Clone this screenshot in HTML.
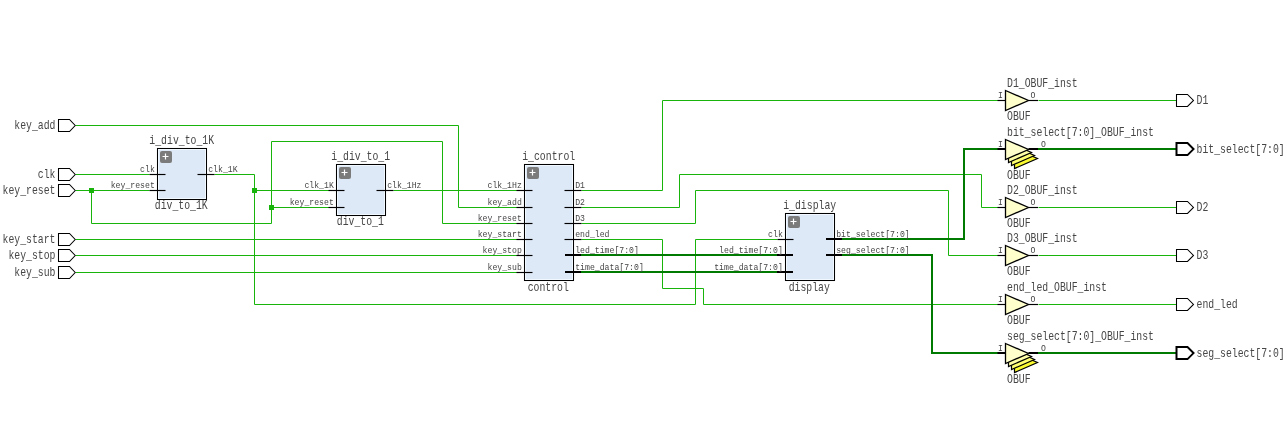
<!DOCTYPE html><html><head><meta charset="utf-8"><style>html,body{margin:0;padding:0;background:#fff;overflow:hidden}svg{display:block;will-change:transform}text{font-family:"Liberation Mono",monospace}</style></head><body>
<svg width="1287" height="430" viewBox="0 0 1287 430">
<rect width="1287" height="430" fill="#fff"/>
<path d="M75.5,125.5 L458.5,125.5 L458.5,207.5 L517.5,207.5" stroke="#18b40c" stroke-width="1" fill="none"/>
<path d="M75.5,174.5 L149.5,174.5" stroke="#18b40c" stroke-width="1" fill="none"/>
<path d="M75.5,190.5 L149.5,190.5" stroke="#18b40c" stroke-width="1" fill="none"/>
<path d="M91.5,190.5 L91.5,223.5 L271.5,223.5 L271.5,141.5 L442.5,141.5 L442.5,223.5 L517.5,223.5" stroke="#18b40c" stroke-width="1" fill="none"/>
<path d="M271.5,207.5 L329.5,207.5" stroke="#18b40c" stroke-width="1" fill="none"/>
<path d="M214.5,174.5 L254.5,174.5 L254.5,304.5 L695.5,304.5 L695.5,239.5 L777.5,239.5" stroke="#18b40c" stroke-width="1" fill="none"/>
<path d="M254.5,190.5 L329.5,190.5" stroke="#18b40c" stroke-width="1" fill="none"/>
<path d="M393.5,190.5 L517.5,190.5" stroke="#18b40c" stroke-width="1" fill="none"/>
<path d="M75.5,239.5 L517.5,239.5" stroke="#18b40c" stroke-width="1" fill="none"/>
<path d="M75.5,255.5 L517.5,255.5" stroke="#18b40c" stroke-width="1" fill="none"/>
<path d="M75.5,272.5 L517.5,272.5" stroke="#18b40c" stroke-width="1" fill="none"/>
<path d="M581.5,190.5 L662.5,190.5 L662.5,100.5 L998.5,100.5" stroke="#18b40c" stroke-width="1" fill="none"/>
<path d="M581.5,207.5 L679.5,207.5 L679.5,174.5 L981.5,174.5 L981.5,207.5 L998.5,207.5" stroke="#18b40c" stroke-width="1" fill="none"/>
<path d="M581.5,223.5 L695.5,223.5 L695.5,190.5 L948.5,190.5 L948.5,255.5 L998.5,255.5" stroke="#18b40c" stroke-width="1" fill="none"/>
<path d="M581.5,239.5 L662.5,239.5 L662.5,288.5 L703.5,288.5 L703.5,304.5 L998.5,304.5" stroke="#18b40c" stroke-width="1" fill="none"/>
<path d="M1038.5,100.5 L1176.5,100.5" stroke="#18b40c" stroke-width="1" fill="none"/>
<path d="M1038.5,207.5 L1176.5,207.5" stroke="#18b40c" stroke-width="1" fill="none"/>
<path d="M1038.5,255.5 L1176.5,255.5" stroke="#18b40c" stroke-width="1" fill="none"/>
<path d="M1038.5,304.5 L1176.5,304.5" stroke="#18b40c" stroke-width="1" fill="none"/>
<path d="M581.0,255.0 L777.0,255.0" stroke="#007a00" stroke-width="2" fill="none"/>
<path d="M581.0,272.0 L777.0,272.0" stroke="#007a00" stroke-width="2" fill="none"/>
<path d="M842.0,239.0 L964.0,239.0 L964.0,149.0 L998.0,149.0" stroke="#007a00" stroke-width="2" fill="none"/>
<path d="M842.0,255.0 L932.0,255.0 L932.0,353.0 L998.0,353.0" stroke="#007a00" stroke-width="2" fill="none"/>
<path d="M1038.0,149.0 L1176.0,149.0" stroke="#007a00" stroke-width="2" fill="none"/>
<path d="M1038.0,353.0 L1176.0,353.0" stroke="#007a00" stroke-width="2" fill="none"/>
<rect x="89" y="188" width="5" height="5" fill="#18b40c"/>
<rect x="252" y="188" width="5" height="5" fill="#18b40c"/>
<rect x="269" y="205" width="5" height="5" fill="#18b40c"/>
<path d="M58.5,119.5 L69.5,119.5 L75.2,125.5 L69.5,131.5 L58.5,131.5 Z" fill="#fff" stroke="#000" stroke-width="1.05"/>
<text x="55.5" y="128.5" font-size="11.9" text-anchor="end" textLength="41.16" lengthAdjust="spacingAndGlyphs" fill="#464646">key_add</text>
<path d="M58.5,168.5 L69.5,168.5 L75.2,174.5 L69.5,180.5 L58.5,180.5 Z" fill="#fff" stroke="#000" stroke-width="1.05"/>
<text x="55.5" y="177.5" font-size="11.9" text-anchor="end" textLength="17.64" lengthAdjust="spacingAndGlyphs" fill="#464646">clk</text>
<path d="M58.5,184.5 L69.5,184.5 L75.2,190.5 L69.5,196.5 L58.5,196.5 Z" fill="#fff" stroke="#000" stroke-width="1.05"/>
<text x="55.5" y="193.5" font-size="11.9" text-anchor="end" textLength="52.92" lengthAdjust="spacingAndGlyphs" fill="#464646">key_reset</text>
<path d="M58.5,233.5 L69.5,233.5 L75.2,239.5 L69.5,245.5 L58.5,245.5 Z" fill="#fff" stroke="#000" stroke-width="1.05"/>
<text x="55.5" y="242.5" font-size="11.9" text-anchor="end" textLength="52.92" lengthAdjust="spacingAndGlyphs" fill="#464646">key_start</text>
<path d="M58.5,249.5 L69.5,249.5 L75.2,255.5 L69.5,261.5 L58.5,261.5 Z" fill="#fff" stroke="#000" stroke-width="1.05"/>
<text x="55.5" y="258.5" font-size="11.9" text-anchor="end" textLength="47.04" lengthAdjust="spacingAndGlyphs" fill="#464646">key_stop</text>
<path d="M58.5,266.5 L69.5,266.5 L75.2,272.5 L69.5,278.5 L58.5,278.5 Z" fill="#fff" stroke="#000" stroke-width="1.05"/>
<text x="55.5" y="275.5" font-size="11.9" text-anchor="end" textLength="41.16" lengthAdjust="spacingAndGlyphs" fill="#464646">key_sub</text>
<rect x="157.5" y="148.5" width="49" height="51" fill="#dee9f7" stroke="#000" stroke-width="1.05"/>
<rect x="158.5" y="149.5" width="47" height="49" fill="none" stroke="#f2f8ff" stroke-width="1"/>
<rect x="160" y="151" width="12" height="12" rx="2" fill="#7b7b7b"/>
<path d="M162.5,156.5 L168.5,156.5 M165.5,153.5 L165.5,159.5" stroke="#fff" stroke-width="1.2"/>
<text x="181.7" y="143.9" font-size="11.9" text-anchor="middle" textLength="64.68" lengthAdjust="spacingAndGlyphs" fill="#464646">i_div_to_1K</text>
<text x="181.29999999999998" y="209.1" font-size="11.9" text-anchor="middle" textLength="52.92" lengthAdjust="spacingAndGlyphs" fill="#464646">div_to_1K</text>
<path d="M149.5,174.5 L165.5,174.5" stroke="#000" stroke-width="1.15"/>
<text x="154.8" y="171.8" font-size="9.3" text-anchor="end" textLength="14.70" lengthAdjust="spacingAndGlyphs" fill="#464646">clk</text>
<path d="M149.5,190.5 L165.5,190.5" stroke="#000" stroke-width="1.15"/>
<text x="154.8" y="187.8" font-size="9.3" text-anchor="end" textLength="44.10" lengthAdjust="spacingAndGlyphs" fill="#464646">key_reset</text>
<path d="M197.5,174.5 L214.5,174.5" stroke="#000" stroke-width="1.15"/>
<text x="208.2" y="171.8" font-size="9.3" text-anchor="start" textLength="29.40" lengthAdjust="spacingAndGlyphs" fill="#464646">clk_1K</text>
<rect x="336.5" y="164.5" width="49" height="51" fill="#dee9f7" stroke="#000" stroke-width="1.05"/>
<rect x="337.5" y="165.5" width="47" height="49" fill="none" stroke="#f2f8ff" stroke-width="1"/>
<rect x="339" y="167" width="12" height="12" rx="2" fill="#7b7b7b"/>
<path d="M341.5,172.5 L347.5,172.5 M344.5,169.5 L344.5,175.5" stroke="#fff" stroke-width="1.2"/>
<text x="360.7" y="159.9" font-size="11.9" text-anchor="middle" textLength="58.80" lengthAdjust="spacingAndGlyphs" fill="#464646">i_div_to_1</text>
<text x="360.3" y="224.5" font-size="11.9" text-anchor="middle" textLength="47.04" lengthAdjust="spacingAndGlyphs" fill="#464646">div_to_1</text>
<path d="M328.5,190.5 L344.5,190.5" stroke="#000" stroke-width="1.15"/>
<text x="333.8" y="187.8" font-size="9.3" text-anchor="end" textLength="29.40" lengthAdjust="spacingAndGlyphs" fill="#464646">clk_1K</text>
<path d="M328.5,207.5 L344.5,207.5" stroke="#000" stroke-width="1.15"/>
<text x="333.8" y="204.8" font-size="9.3" text-anchor="end" textLength="44.10" lengthAdjust="spacingAndGlyphs" fill="#464646">key_reset</text>
<path d="M376.5,190.5 L393.5,190.5" stroke="#000" stroke-width="1.15"/>
<text x="387.2" y="187.8" font-size="9.3" text-anchor="start" textLength="34.30" lengthAdjust="spacingAndGlyphs" fill="#464646">clk_1Hz</text>
<rect x="524.5" y="164.5" width="49" height="116" fill="#dee9f7" stroke="#000" stroke-width="1.05"/>
<rect x="525.5" y="165.5" width="47" height="114" fill="none" stroke="#f2f8ff" stroke-width="1"/>
<rect x="527" y="167" width="12" height="12" rx="2" fill="#7b7b7b"/>
<path d="M529.5,172.5 L535.5,172.5 M532.5,169.5 L532.5,175.5" stroke="#fff" stroke-width="1.2"/>
<text x="548.7" y="159.9" font-size="11.9" text-anchor="middle" textLength="52.92" lengthAdjust="spacingAndGlyphs" fill="#464646">i_control</text>
<text x="548.3000000000001" y="290.7" font-size="11.9" text-anchor="middle" textLength="41.16" lengthAdjust="spacingAndGlyphs" fill="#464646">control</text>
<path d="M516.5,190.5 L532.5,190.5" stroke="#000" stroke-width="1.15"/>
<text x="521.8" y="187.8" font-size="9.3" text-anchor="end" textLength="34.30" lengthAdjust="spacingAndGlyphs" fill="#464646">clk_1Hz</text>
<path d="M516.5,207.5 L532.5,207.5" stroke="#000" stroke-width="1.15"/>
<text x="521.8" y="204.8" font-size="9.3" text-anchor="end" textLength="34.30" lengthAdjust="spacingAndGlyphs" fill="#464646">key_add</text>
<path d="M516.5,223.5 L532.5,223.5" stroke="#000" stroke-width="1.15"/>
<text x="521.8" y="220.8" font-size="9.3" text-anchor="end" textLength="44.10" lengthAdjust="spacingAndGlyphs" fill="#464646">key_reset</text>
<path d="M516.5,239.5 L532.5,239.5" stroke="#000" stroke-width="1.15"/>
<text x="521.8" y="236.8" font-size="9.3" text-anchor="end" textLength="44.10" lengthAdjust="spacingAndGlyphs" fill="#464646">key_start</text>
<path d="M516.5,255.5 L532.5,255.5" stroke="#000" stroke-width="1.15"/>
<text x="521.8" y="252.8" font-size="9.3" text-anchor="end" textLength="39.20" lengthAdjust="spacingAndGlyphs" fill="#464646">key_stop</text>
<path d="M516.5,272.5 L532.5,272.5" stroke="#000" stroke-width="1.15"/>
<text x="521.8" y="269.8" font-size="9.3" text-anchor="end" textLength="34.30" lengthAdjust="spacingAndGlyphs" fill="#464646">key_sub</text>
<path d="M564.5,190.5 L581.5,190.5" stroke="#000" stroke-width="1.15"/>
<text x="575.2" y="187.8" font-size="9.3" text-anchor="start" textLength="9.80" lengthAdjust="spacingAndGlyphs" fill="#464646">D1</text>
<path d="M564.5,207.5 L581.5,207.5" stroke="#000" stroke-width="1.15"/>
<text x="575.2" y="204.8" font-size="9.3" text-anchor="start" textLength="9.80" lengthAdjust="spacingAndGlyphs" fill="#464646">D2</text>
<path d="M564.5,223.5 L581.5,223.5" stroke="#000" stroke-width="1.15"/>
<text x="575.2" y="220.8" font-size="9.3" text-anchor="start" textLength="9.80" lengthAdjust="spacingAndGlyphs" fill="#464646">D3</text>
<path d="M564.5,239.5 L581.5,239.5" stroke="#000" stroke-width="1.15"/>
<text x="575.2" y="236.8" font-size="9.3" text-anchor="start" textLength="34.30" lengthAdjust="spacingAndGlyphs" fill="#464646">end_led</text>
<path d="M565,255 L581,255" stroke="#000" stroke-width="2"/>
<text x="575.2" y="252.8" font-size="9.3" text-anchor="start" textLength="63.70" lengthAdjust="spacingAndGlyphs" fill="#464646">led_time[7:0]</text>
<path d="M565,272 L581,272" stroke="#000" stroke-width="2"/>
<text x="575.2" y="269.8" font-size="9.3" text-anchor="start" textLength="68.60" lengthAdjust="spacingAndGlyphs" fill="#464646">time_data[7:0]</text>
<rect x="785.5" y="213.5" width="49" height="67" fill="#dee9f7" stroke="#000" stroke-width="1.05"/>
<rect x="786.5" y="214.5" width="47" height="65" fill="none" stroke="#f2f8ff" stroke-width="1"/>
<rect x="788" y="216" width="12" height="12" rx="2" fill="#7b7b7b"/>
<path d="M790.5,221.5 L796.5,221.5 M793.5,218.5 L793.5,224.5" stroke="#fff" stroke-width="1.2"/>
<text x="809.7" y="208.9" font-size="11.9" text-anchor="middle" textLength="52.92" lengthAdjust="spacingAndGlyphs" fill="#464646">i_display</text>
<text x="809.3000000000001" y="290.7" font-size="11.9" text-anchor="middle" textLength="41.16" lengthAdjust="spacingAndGlyphs" fill="#464646">display</text>
<path d="M777.5,239.5 L793.5,239.5" stroke="#000" stroke-width="1.15"/>
<text x="782.8" y="236.8" font-size="9.3" text-anchor="end" textLength="14.70" lengthAdjust="spacingAndGlyphs" fill="#464646">clk</text>
<path d="M777,255 L793,255" stroke="#000" stroke-width="2"/>
<text x="782.8" y="252.8" font-size="9.3" text-anchor="end" textLength="63.70" lengthAdjust="spacingAndGlyphs" fill="#464646">led_time[7:0]</text>
<path d="M777,272 L793,272" stroke="#000" stroke-width="2"/>
<text x="782.8" y="269.8" font-size="9.3" text-anchor="end" textLength="68.60" lengthAdjust="spacingAndGlyphs" fill="#464646">time_data[7:0]</text>
<path d="M826,239 L842,239" stroke="#000" stroke-width="2"/>
<text x="836.2" y="236.8" font-size="9.3" text-anchor="start" textLength="73.50" lengthAdjust="spacingAndGlyphs" fill="#464646">bit_select[7:0]</text>
<path d="M826,255 L842,255" stroke="#000" stroke-width="2"/>
<text x="836.2" y="252.8" font-size="9.3" text-anchor="start" textLength="73.50" lengthAdjust="spacingAndGlyphs" fill="#464646">seg_select[7:0]</text>
<path d="M997.5,100.5 L1005.5,100.5" stroke="#000" stroke-width="1.15"/>
<path d="M1028.5,100.5 L1038,100.5" stroke="#000" stroke-width="1.15"/>
<path d="M1005.5,90.5 L1028.5,100.5 L1005.5,110.5 Z" fill="#ffffcc" stroke="#000" stroke-width="1.3"/>
<text x="1007" y="86.6" font-size="11.9" text-anchor="start" textLength="70.56" lengthAdjust="spacingAndGlyphs" fill="#464646">D1_OBUF_inst</text>
<text x="1007" y="119.6" font-size="11.9" text-anchor="start" textLength="23.52" lengthAdjust="spacingAndGlyphs" fill="#464646">OBUF</text>
<text x="1002.8" y="98" font-size="9.3" text-anchor="end" textLength="4.90" lengthAdjust="spacingAndGlyphs" fill="#464646">I</text>
<text x="1030.5" y="98" font-size="9.3" text-anchor="start" textLength="4.90" lengthAdjust="spacingAndGlyphs" fill="#464646">O</text>
<path d="M997.5,149 L1005.5,149" stroke="#000" stroke-width="2"/>
<path d="M1028.5,149 L1038,149" stroke="#000" stroke-width="2"/>
<path d="M1014.5,148.5 L1037.5,158.5 L1014.5,168.5 Z" fill="#fafa30" stroke="#000" stroke-width="1.2"/>
<path d="M1011.5,145.5 L1034.5,155.5 L1011.5,165.5 Z" fill="#ffff70" stroke="#000" stroke-width="1.2"/>
<path d="M1008.5,142.5 L1031.5,152.5 L1008.5,162.5 Z" fill="#ffffa6" stroke="#000" stroke-width="1.2"/>
<path d="M1005.5,139.5 L1028.5,149.5 L1005.5,159.5 Z" fill="#ffffcc" stroke="#000" stroke-width="1.3"/>
<text x="1007" y="135.6" font-size="11.9" text-anchor="start" textLength="147.00" lengthAdjust="spacingAndGlyphs" fill="#464646">bit_select[7:0]_OBUF_inst</text>
<text x="1007" y="178.5" font-size="11.9" text-anchor="start" textLength="23.52" lengthAdjust="spacingAndGlyphs" fill="#464646">OBUF</text>
<text x="1002.8" y="147" font-size="9.3" text-anchor="end" textLength="4.90" lengthAdjust="spacingAndGlyphs" fill="#464646">I</text>
<text x="1041" y="147" font-size="9.3" text-anchor="start" textLength="4.90" lengthAdjust="spacingAndGlyphs" fill="#464646">O</text>
<path d="M997.5,207.5 L1005.5,207.5" stroke="#000" stroke-width="1.15"/>
<path d="M1028.5,207.5 L1038,207.5" stroke="#000" stroke-width="1.15"/>
<path d="M1005.5,197.5 L1028.5,207.5 L1005.5,217.5 Z" fill="#ffffcc" stroke="#000" stroke-width="1.3"/>
<text x="1007" y="193.6" font-size="11.9" text-anchor="start" textLength="70.56" lengthAdjust="spacingAndGlyphs" fill="#464646">D2_OBUF_inst</text>
<text x="1007" y="226.6" font-size="11.9" text-anchor="start" textLength="23.52" lengthAdjust="spacingAndGlyphs" fill="#464646">OBUF</text>
<text x="1002.8" y="205" font-size="9.3" text-anchor="end" textLength="4.90" lengthAdjust="spacingAndGlyphs" fill="#464646">I</text>
<text x="1030.5" y="205" font-size="9.3" text-anchor="start" textLength="4.90" lengthAdjust="spacingAndGlyphs" fill="#464646">O</text>
<path d="M997.5,255.5 L1005.5,255.5" stroke="#000" stroke-width="1.15"/>
<path d="M1028.5,255.5 L1038,255.5" stroke="#000" stroke-width="1.15"/>
<path d="M1005.5,245.5 L1028.5,255.5 L1005.5,265.5 Z" fill="#ffffcc" stroke="#000" stroke-width="1.3"/>
<text x="1007" y="241.6" font-size="11.9" text-anchor="start" textLength="70.56" lengthAdjust="spacingAndGlyphs" fill="#464646">D3_OBUF_inst</text>
<text x="1007" y="274.6" font-size="11.9" text-anchor="start" textLength="23.52" lengthAdjust="spacingAndGlyphs" fill="#464646">OBUF</text>
<text x="1002.8" y="253" font-size="9.3" text-anchor="end" textLength="4.90" lengthAdjust="spacingAndGlyphs" fill="#464646">I</text>
<text x="1030.5" y="253" font-size="9.3" text-anchor="start" textLength="4.90" lengthAdjust="spacingAndGlyphs" fill="#464646">O</text>
<path d="M997.5,304.5 L1005.5,304.5" stroke="#000" stroke-width="1.15"/>
<path d="M1028.5,304.5 L1038,304.5" stroke="#000" stroke-width="1.15"/>
<path d="M1005.5,294.5 L1028.5,304.5 L1005.5,314.5 Z" fill="#ffffcc" stroke="#000" stroke-width="1.3"/>
<text x="1007" y="290.6" font-size="11.9" text-anchor="start" textLength="99.96" lengthAdjust="spacingAndGlyphs" fill="#464646">end_led_OBUF_inst</text>
<text x="1007" y="323.6" font-size="11.9" text-anchor="start" textLength="23.52" lengthAdjust="spacingAndGlyphs" fill="#464646">OBUF</text>
<text x="1002.8" y="302" font-size="9.3" text-anchor="end" textLength="4.90" lengthAdjust="spacingAndGlyphs" fill="#464646">I</text>
<text x="1030.5" y="302" font-size="9.3" text-anchor="start" textLength="4.90" lengthAdjust="spacingAndGlyphs" fill="#464646">O</text>
<path d="M997.5,353 L1005.5,353" stroke="#000" stroke-width="2"/>
<path d="M1028.5,353 L1038,353" stroke="#000" stroke-width="2"/>
<path d="M1014.5,352.5 L1037.5,362.5 L1014.5,372.5 Z" fill="#fafa30" stroke="#000" stroke-width="1.2"/>
<path d="M1011.5,349.5 L1034.5,359.5 L1011.5,369.5 Z" fill="#ffff70" stroke="#000" stroke-width="1.2"/>
<path d="M1008.5,346.5 L1031.5,356.5 L1008.5,366.5 Z" fill="#ffffa6" stroke="#000" stroke-width="1.2"/>
<path d="M1005.5,343.5 L1028.5,353.5 L1005.5,363.5 Z" fill="#ffffcc" stroke="#000" stroke-width="1.3"/>
<text x="1007" y="339.6" font-size="11.9" text-anchor="start" textLength="147.00" lengthAdjust="spacingAndGlyphs" fill="#464646">seg_select[7:0]_OBUF_inst</text>
<text x="1007" y="382.5" font-size="11.9" text-anchor="start" textLength="23.52" lengthAdjust="spacingAndGlyphs" fill="#464646">OBUF</text>
<text x="1002.8" y="351" font-size="9.3" text-anchor="end" textLength="4.90" lengthAdjust="spacingAndGlyphs" fill="#464646">I</text>
<text x="1041" y="351" font-size="9.3" text-anchor="start" textLength="4.90" lengthAdjust="spacingAndGlyphs" fill="#464646">O</text>
<path d="M1176.5,94.4 L1187.5,94.4 L1193.5,100.4 L1187.5,106.4 L1176.5,106.4 Z" fill="#fff" stroke="#000" stroke-width="1.05"/>
<text x="1196.5" y="104.0" font-size="11.9" text-anchor="start" textLength="11.76" lengthAdjust="spacingAndGlyphs" fill="#464646">D1</text>
<path d="M1176.5,143.1 L1187.5,143.1 L1193.5,149.1 L1187.5,155.1 L1176.5,155.1 Z" fill="#fff" stroke="#000" stroke-width="2"/>
<text x="1196.5" y="153.0" font-size="11.9" text-anchor="start" textLength="88.20" lengthAdjust="spacingAndGlyphs" fill="#464646">bit_select[7:0]</text>
<path d="M1176.5,201.4 L1187.5,201.4 L1193.5,207.4 L1187.5,213.4 L1176.5,213.4 Z" fill="#fff" stroke="#000" stroke-width="1.05"/>
<text x="1196.5" y="211.0" font-size="11.9" text-anchor="start" textLength="11.76" lengthAdjust="spacingAndGlyphs" fill="#464646">D2</text>
<path d="M1176.5,249.4 L1187.5,249.4 L1193.5,255.4 L1187.5,261.4 L1176.5,261.4 Z" fill="#fff" stroke="#000" stroke-width="1.05"/>
<text x="1196.5" y="259.0" font-size="11.9" text-anchor="start" textLength="11.76" lengthAdjust="spacingAndGlyphs" fill="#464646">D3</text>
<path d="M1176.5,298.4 L1187.5,298.4 L1193.5,304.4 L1187.5,310.4 L1176.5,310.4 Z" fill="#fff" stroke="#000" stroke-width="1.05"/>
<text x="1196.5" y="308.0" font-size="11.9" text-anchor="start" textLength="41.16" lengthAdjust="spacingAndGlyphs" fill="#464646">end_led</text>
<path d="M1176.5,347.1 L1187.5,347.1 L1193.5,353.1 L1187.5,359.1 L1176.5,359.1 Z" fill="#fff" stroke="#000" stroke-width="2"/>
<text x="1196.5" y="357.0" font-size="11.9" text-anchor="start" textLength="88.20" lengthAdjust="spacingAndGlyphs" fill="#464646">seg_select[7:0]</text>
</svg></body></html>
